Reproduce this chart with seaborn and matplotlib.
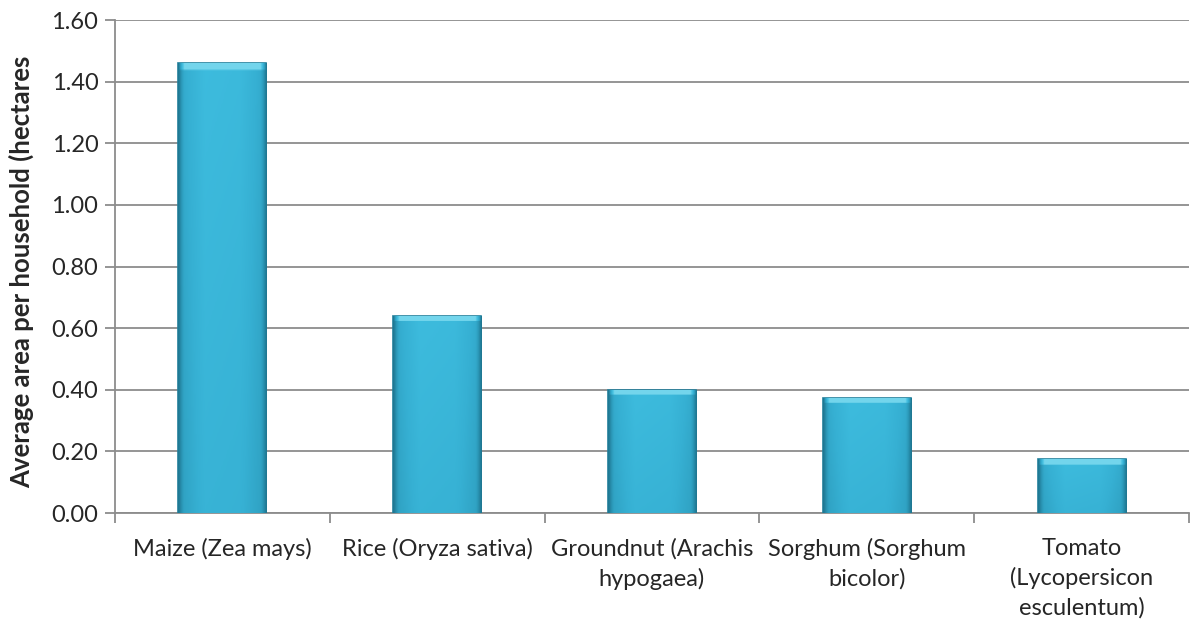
import numpy as np
import pandas as pd
import seaborn as sns
import matplotlib.pyplot as plt
from matplotlib.colors import LinearSegmentedColormap
from matplotlib.ticker import FixedLocator, MultipleLocator, FormatStrFormatter

# Data
crops = [
    "Maize (Zea mays)",
    "Rice (Oryza sativa)",
    "Groundnut (Arachis\nhypogaea)",
    "Sorghum (Sorghum\nbicolor)",
    "Tomato\n(Lycopersicon\nesculentum)",
]
area = [1.46, 0.64, 0.40, 0.375, 0.175]

df = pd.DataFrame({"crop": crops, "area": area})

sns.set_style("white")
plt.rcParams["font.family"] = ["Lato", "DejaVu Sans"]

fig = plt.figure(figsize=(11.93, 6.28), dpi=100)
ax = fig.add_axes([0.0964, 0.183, 0.9002, 0.785])

sns.barplot(data=df, x="crop", y="area", color="#37b3d6", saturation=1,
            width=0.41, edgecolor="#23809c", linewidth=1.2, zorder=3, ax=ax)

ax.set_xlim(-0.5, len(crops) - 0.5)
ax.set_ylim(0, 1.6)

# shaded fill for the bars (light top, darker edges and bottom)
cmap = LinearSegmentedColormap.from_list("bar", ["#1f7893", "#2c9aba", "#36b0d3", "#3ebddf", "#7ad9ee"])
xs = np.linspace(0, 1, 60)
horiz = np.interp(xs, [0, 0.06, 0.3, 0.7, 0.94, 1], [0.0, 0.45, 0.72, 0.68, 0.45, 0.0])
for bar in ax.patches:
    x0, y0 = bar.get_x(), bar.get_y()
    w, h = bar.get_width(), bar.get_height()
    ys = np.linspace(0, 1, 200)[:, None]
    grad = horiz[None, :] * (0.78 + 0.22 * ys)
    # bevel band near the top of each bar
    top = (ys > 1 - 0.018 / h).astype(float)
    grad = np.where(top > 0, np.maximum(grad, 0.97 * np.minimum(1, horiz[None, :] * 2.2)), grad)
    img = ax.imshow(grad, cmap=cmap, vmin=0, vmax=1, origin="lower", aspect="auto",
                    extent=[x0, x0 + w, y0, y0 + h], zorder=3.5, interpolation="bilinear")
    img.set_clip_path(bar)
ax.set_xlim(-0.5, len(crops) - 0.5)
ax.set_ylim(0, 1.6)

ax.yaxis.set_major_locator(MultipleLocator(0.2))
ax.yaxis.set_major_formatter(FormatStrFormatter("%.2f"))
ax.yaxis.grid(True, color="#8c8c8c", linewidth=1.3, zorder=0)
ax.set_axisbelow(True)

# Excel style ticks between categories
ax.xaxis.set_minor_locator(FixedLocator([i - 0.5 for i in range(len(crops) + 1)]))
ax.tick_params(axis="x", which="major", length=0, labelsize=17, pad=18)
ax.tick_params(axis="x", which="minor", length=7, width=1.3, color="#8c8c8c", direction="out")
ax.tick_params(axis="y", which="major", length=7, width=1.3, color="#8c8c8c",
               direction="out", labelsize=17, pad=5)
ax.tick_params(bottom=True, left=True, which="both")
for lbl in ax.get_xticklabels():
    lbl.set_linespacing(1.45)

for s in ["top", "right"]:
    ax.spines[s].set_visible(False)
for s in ["left", "bottom"]:
    ax.spines[s].set_color("#8c8c8c")
    ax.spines[s].set_linewidth(1.3)

ax.set_xlabel("")
ax.set_ylabel("Average area per household (hectares", fontsize=18.5, fontweight="bold")
ax.yaxis.set_label_coords(-0.075, 0.49)

plt.savefig("out.png", dpi=100)
plt.close()
